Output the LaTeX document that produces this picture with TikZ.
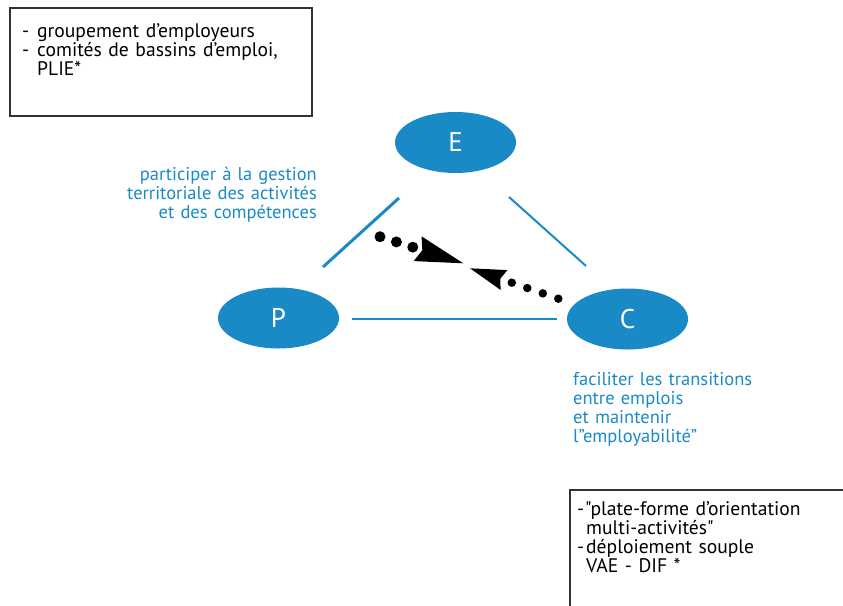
\documentclass[tikz,border=0pt]{standalone}
\usepackage{fontspec}
\setmainfont{PT Sans}[Ligatures=TeXOff]
\usetikzlibrary{shapes.geometric,arrows.meta}
\definecolor{bleu}{HTML}{1A8AC6}
\definecolor{cadre}{HTML}{333333}
\setlength{\lineskiplimit}{-100pt}
\begin{document}
\begin{tikzpicture}[x=1pt,y=-1pt,
  pole/.style={ellipse, fill=bleu, draw=none, minimum width=121pt, minimum height=61pt,
    inner sep=0pt, text=white, font=\fontsize{27}{27}\selectfont},
  lien/.style={draw=bleu, line width=2pt},
  lienfort/.style={draw=bleu, line width=3pt},
  cadrebox/.style={draw=cadre, line width=1.3pt},
  txt/.style={inner sep=0pt, text width=300pt,
    font=\fontsize{19.6}{19}\selectfont},
  bluetxt/.style={inner sep=0pt, text width=260pt, text=bleu,
    font=\fontsize{18.5}{19}\selectfont},
  pointille/.style={line cap=round, dash pattern=on 0pt off #1, draw=black}
]
\useasboundingbox (0,0) rectangle (843,605);
\clip (0,0) rectangle (843,605);

% boxes
\draw[cadrebox] (10,8) rectangle (312,116);
\draw[cadrebox] (570,490) rectangle (860,620);

\node[txt, anchor=base west, align=left] (boxA) at (22,37.3)
  {\makebox[15pt][l]{-}groupement d’employeurs\\
   \makebox[15pt][l]{-}comités de bassins d’emploi,\\
   \hspace*{15pt}PLIE*};
\node[txt, anchor=base west, align=left] (boxB) at (577,515)
  {\makebox[8pt][l]{-}"plate-forme d’orientation\\
   \hspace*{9pt}multi-activités"\\
   \makebox[9pt][l]{-}déploiement souple\\
   \hspace*{9pt}VAE - DIF *};

% poles
\node[pole] (E) at (455.5,142.5) {E};
\node[pole] (P) at (278.5,318) {P};
\node[pole] (C) at (627.5,319) {C};

% links
\coordinate (pe1) at (323,267); \coordinate (pe2) at (399,198);
\coordinate (ec1) at (509,197); \coordinate (ec2) at (586,266);
\coordinate (pc1) at (352,319); \coordinate (pc2) at (557,319);
\draw[lienfort] (pe1) -- (pe2);
\draw[lien] (ec1) -- (ec2);
\draw[lien] (pc1) -- (pc2);

% labels
\node[bluetxt, anchor=base east, align=right] (labPE) at (317,180)
  {participer à la gestion\\ territoriale des activités\\ et des compétences};
\node[bluetxt, anchor=base west, align=left] (labC) at (573,385)
  {faciliter les transitions\\ entre emplois\\ et maintenir\\ l”employabilité”};

% dotted arrows
\coordinate (d1) at (380,236.7); \coordinate (t1) at (463.3,263.3);
\coordinate (d2) at (558.3,298.7); \coordinate (t2) at (470,268.3);
\draw[pointille=17.2pt, line width=11pt,
  -{Stealth[length=48pt,width=26pt,inset=5pt,line width=0pt]}] (d1) -- (t1);
\draw[pointille=16.4pt, line width=8.5pt,
  -{Stealth[length=36pt,width=21pt,inset=4pt,line width=0pt]}] (d2) -- (t2);
\end{tikzpicture}
\end{document}
